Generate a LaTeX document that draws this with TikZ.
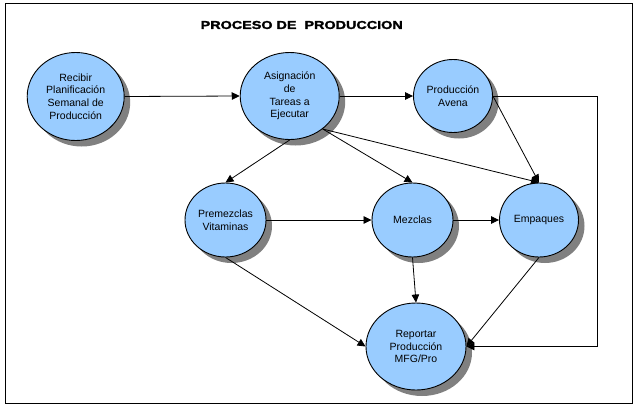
\documentclass[tikz,border=0pt]{standalone}
\usepackage{fontspec}
\setmainfont{Liberation Sans}
\newfontface\titlefont{Liberation Sans Bold}[FakeBold=1.6]
\usetikzlibrary{shapes.geometric,arrows.meta,shadows}
\definecolor{nodeblue}{HTML}{99CCFF}
\definecolor{shadowgray}{HTML}{808080}
\begin{document}
\begin{tikzpicture}[x=1pt,y=-1pt,
  proc/.style={ellipse, draw=black, line width=0.9pt, fill=nodeblue, inner sep=0pt,
    align=center, font=\fontsize{10.5}{12.7}\selectfont,
    drop shadow={shadow xshift=6pt, shadow yshift=-6pt, fill=shadowgray, opacity=1, draw=none}},
  conn/.style={line width=0.8pt, -{Triangle[length=8pt,width=7.5pt]}},
  frame/.style={line width=1.2pt, draw=black}]
\useasboundingbox (0,0) rectangle (638,408);
\draw[frame] (5.5,3.5) rectangle (632.3,403.3);
\node[font=\titlefont\fontsize{11.5}{12}\selectfont] (title) at (301.7,25)
  {\scalebox{1.25}[1]{PROCESO DE\ \ PRODUCCION}};

\node[proc, minimum width=97pt, minimum height=88pt] (rec) at (75.7,96.5)
  {Recibir\\Planificación\\Semanal de\\Producción};
\node[proc, minimum width=99pt, minimum height=87pt] (asi) at (289.7,96)
  {Asignación\\de\\Tareas a\\Ejecutar};
\node[proc, minimum width=79pt, minimum height=73pt] (ave) at (453,96)
  {Producción\\Avena};
\node[proc, minimum width=81pt, minimum height=74pt] (pre) at (225.5,220)
  {Premezclas\\Vitaminas};
\node[proc, minimum width=81pt, minimum height=74pt] (mez) at (412.5,220)
  {Mezclas};
\node[proc, minimum width=79pt, minimum height=74pt] (emp) at (539,220)
  {Empaques};
\node[proc, minimum width=100pt, minimum height=87pt] (rep) at (416,346.5)
  {Reportar\\Producción\\MFG/Pro};

\coordinate (c1) at (597.3,96);
\coordinate (c2) at (597.3,346.5);

\draw[conn] (rec.east) -- (asi.west);
\draw[conn] (asi.east) -- (ave.west);
\draw[conn] (asi.south) -- (pre.north);
\draw[conn] (asi.-45) -- (mez.north);
\draw[conn] (asi.-45) -- (emp.north);
\draw[conn] (ave.east) -- (emp.north);
\draw[conn] (pre.east) -- (mez.west);
\draw[conn] (mez.east) -- (emp.west);
\draw[conn] (pre.south) -- (rep.west);
\draw[conn] (mez.south) -- (rep.north);
\draw[conn] (emp.south) -- (rep.east);
\draw[conn] (ave.east) -- (c1) -- (c2) -- (rep.east);
\end{tikzpicture}
\end{document}
